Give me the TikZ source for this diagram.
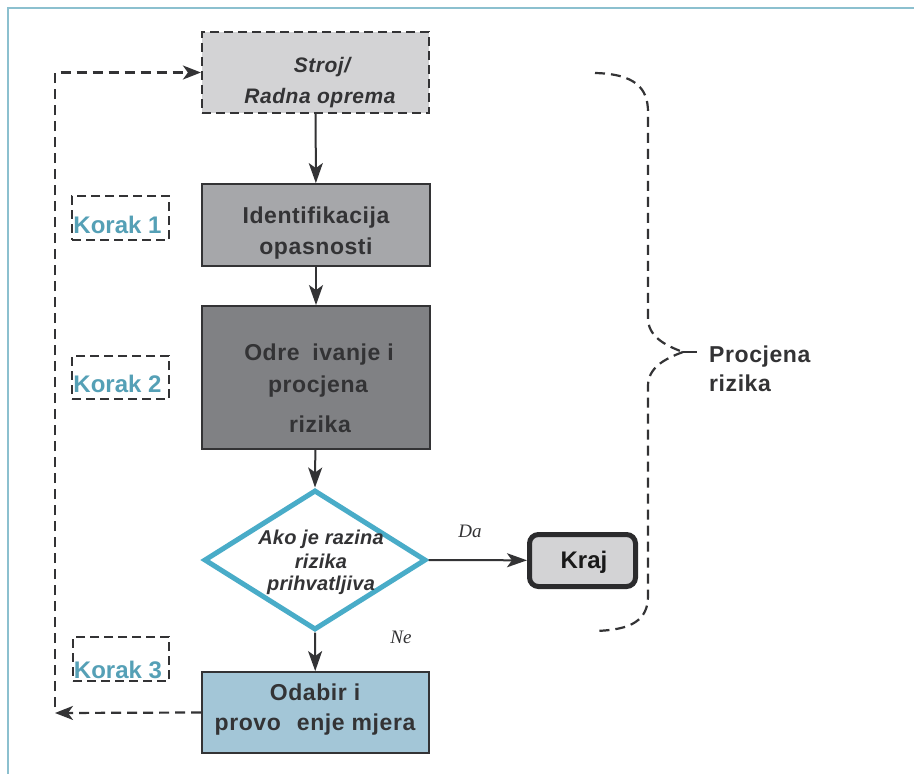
\documentclass[tikz,border=0pt]{standalone}
\usepackage{fontspec}
\setmainfont{Liberation Sans}
\newfontfamily\lbl{Liberation Sans}[LetterSpace=2.5]
\newfontfamily\lblnarrow{Liberation Sans}[LetterSpace=1]
\newfontfamily\serifi{Liberation Serif}
\usetikzlibrary{arrows.meta,shapes.geometric}

\definecolor{ink}{HTML}{333335}
\definecolor{frameblue}{HTML}{8CC0CF}
\definecolor{fillA}{HTML}{D3D3D5}
\definecolor{fillB}{HTML}{A6A7AA}
\definecolor{fillC}{HTML}{808184}
\definecolor{fillD}{HTML}{A3C6D7}
\definecolor{teal}{HTML}{49ACC8}
\definecolor{steptext}{HTML}{55A0B6}

\tikzset{
  box/.style={draw=ink, line width=1.8pt, inner sep=0pt},
  dashbox/.style={draw=ink, line width=2pt, dash pattern=on 9pt off 5pt, inner sep=0pt},
  boxtext/.style={anchor=base, text=ink, font=\lbl\bfseries\fontsize{23}{26}\selectfont, inner sep=0pt},
  difftext/.style={boxtext, font=\lblnarrow\bfseries\itshape\fontsize{20}{22}\selectfont},
  steplabel/.style={anchor=base, text=steptext, font=\bfseries\fontsize{24}{26}\selectfont, inner sep=0pt},
  flow/.style={draw=ink, line width=2pt, -{Stealth[length=20pt,width=14pt,inset=5pt]}},
  loop/.style={draw=ink, line width=2.2pt, dash pattern=on 10pt off 6pt},
  loophead/.style={-{Stealth[length=18pt,width=14pt,inset=5pt]}},
}

\begin{document}
\begin{tikzpicture}[x=1pt,y=-1pt]
\useasboundingbox (0,0) rectangle (914,774);
\fill[white] (0,0) rectangle (914,774);

% page frame
\draw[frameblue, line width=2pt] (8,774) -- (8,8) -- (914,8);

% process boxes
\node[dashbox, line width=2.2pt, fill=fillA, minimum width=227pt, minimum height=81pt] (stroj) at (315.5,72.5) {};
\node[box, fill=fillB, minimum width=228pt, minimum height=82pt] (ident) at (316,225) {};
\node[box, fill=fillC, minimum width=228pt, minimum height=143pt] (odr) at (316,377.5) {};
\node[draw=teal, line width=5pt, diamond, fill=white, inner sep=0pt,
      minimum width=222pt, minimum height=140pt] (dec) at (315,560) {};
\node[draw=ink!85!black, line width=5pt, rounded corners=9pt, fill=fillA, inner sep=0pt,
      minimum width=106pt, minimum height=52pt] (kraj) at (582.5,560.5) {};
\node[box, fill=fillD, minimum width=227pt, minimum height=81pt] (odabir) at (315.5,712.5) {};

% step boxes
\node[dashbox, minimum width=97pt, minimum height=44pt] (k1box) at (120.5,218) {};
\node[dashbox, minimum width=97pt, minimum height=43pt] (k2box) at (120.5,377.5) {};
\node[dashbox, minimum width=96pt, minimum height=44pt] (k3box) at (121,659) {};

% box texts
\node[boxtext, font=\lbl\bfseries\itshape\fontsize{21}{24}\selectfont] (stroj1) at (322,72) {Stroj/};
\node[boxtext, font=\lbl\bfseries\itshape\fontsize{21}{24}\selectfont] (stroj2) at (320,103) {Radna oprema};
\node[boxtext] (ident1) at (316,223) {Identifikacija};
\node[boxtext] (ident2) at (316,254) {opasnosti};
\node[boxtext] (odr1) at (319,360) {Odre\hspace{0.55em}ivanje i};
\node[boxtext] (odr2) at (318,392) {procjena};
\node[boxtext] (odr3) at (320,432) {rizika};
\node[difftext] (dec1) at (321,544) {Ako je razina};
\node[difftext] (dec2) at (321,568) {rizika};
\node[difftext] (dec3) at (321,590) {prihvatljiva};
\node[boxtext, text=black!90, font=\bfseries\fontsize{24}{26}\selectfont] (kraj1) at (584,568) {Kraj};
\node[boxtext] (odab1) at (315,700) {Odabir i};
\node[boxtext] (odab2) at (315,730) {provo\hspace{0.7em}enje mjera};

% step labels
\node[steplabel] (k1) at (117.5,233) {Korak 1};
\node[steplabel] (k2) at (117.5,392) {Korak 2};
\node[steplabel] (k3) at (118,678) {Korak 3};

% branch labels
\node[anchor=base, text=ink, font=\serifi\itshape\fontsize{19}{22}\selectfont, inner sep=0pt] (da) at (470,537) {Da};
\node[anchor=base, text=ink, font=\serifi\itshape\fontsize{19}{22}\selectfont, inner sep=0pt] (ne) at (401,643) {Ne};

% brace label
\node[anchor=base west, text=ink, font=\lbl\bfseries\fontsize{23}{26}\selectfont, inner sep=0pt] (proc1) at (709,362) {Procjena};
\node[anchor=base west, text=ink, font=\lbl\bfseries\fontsize{23}{26}\selectfont, inner sep=0pt] (proc2) at (709,391) {rizika};

% main flow
\draw[flow] (stroj) -- (ident);
\draw[flow] (ident) -- (odr);
\draw[flow] (odr) -- (dec.north);
\draw[flow] (dec.east) -- (kraj);
\draw[flow] (dec.south) -- (odabir);

% feedback loop
\coordinate (loopend) at (55,713);
\coordinate (loopbot) at (55,707);
\coordinate (looptop) at (55,72.5);
\draw[loop, loophead] (odabir.west) -- (loopend);
\draw[loop, loophead] (loopbot) -- (looptop) -- (stroj.west);

% brace around the assessment steps
\coordinate (bracetop) at (595,73);
\coordinate (bracetip) at (683,352);
\coordinate (bracebot) at (595,631);
\coordinate (bracetail) at (697,352);
\draw[loop] (bracetop) .. controls (635,74) and (648,88) .. (648,112)
  -- (648,318) .. controls (648,336) and (664,345) .. (bracetip);
\draw[loop] (bracetip) .. controls (664,359) and (648,368) .. (648,386)
  -- (648,596) .. controls (648,620) and (632,630) .. (bracebot);
\draw[ink, line width=2.2pt] (bracetip) -- (bracetail);
\end{tikzpicture}
\end{document}
